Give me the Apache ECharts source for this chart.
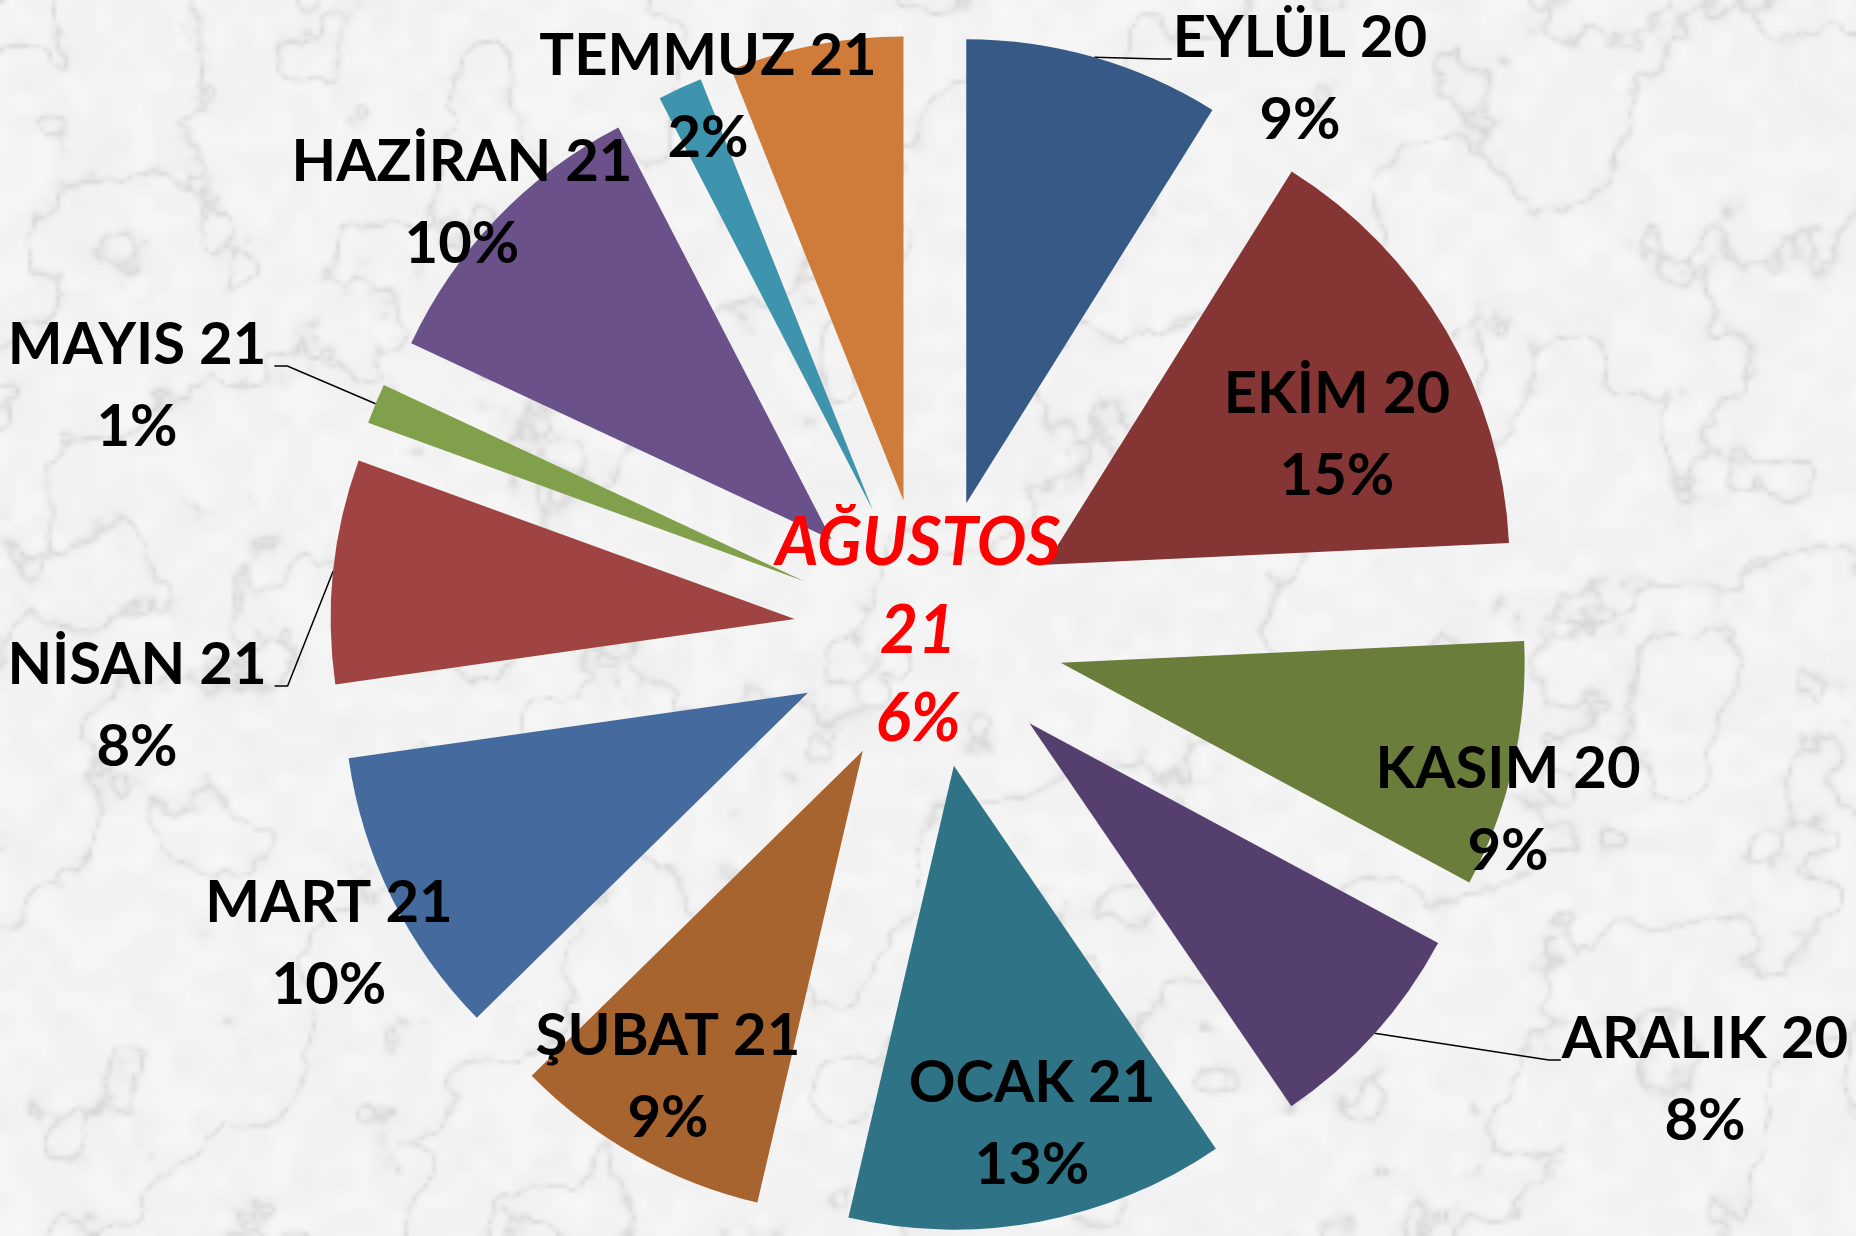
<!DOCTYPE html>
<html>
<head>
<meta charset="utf-8">
<title>Aylık dağılım</title>
<script src="https://cdn.jsdelivr.net/npm/echarts@6/dist/echarts.min.js"></script>
<style>
html, body { margin: 0; padding: 0; }
#chart { width: 1856px; height: 1236px; background-color: #f0f0f0; background-size: 1856px 1236px; }
</style>
</head>
<body>
<div id="chart"></div>
<script>
const months = ['EYLÜL 20', 'EKİM 20', 'KASIM 20', 'ARALIK 20', 'OCAK 21', 'ŞUBAT 21',
  'MART 21', 'NİSAN 21', 'MAYIS 21', 'HAZİRAN 21', 'TEMMUZ 21', 'AĞUSTOS 21'];
// shares in % (labels show them rounded)
const shares = [8.9, 15.35, 8.6, 7.6, 13.2, 9.0, 10.1, 7.8, 1.4, 10.45, 1.55, 6.05];
const sliceColors = ['#365985', '#843534', '#6a7d3b', '#543f6e', '#2e7386', '#a8642f',
  '#456a9d', '#a04343', '#80a04b', '#6a5189', '#3e94ad', '#cf7b3a'];

// where each label block sits (centre, px) and which ones hang on a leader line
const labelSpots = [[1300, 79], [1337, 435], [1508, 810], [1705, 1080], [1032, 1124], [668, 1077],
  [329, 944], [137, 706], [137, 386], [462, 203], [708, 97], [918, 632]];
const withLeader = [true, false, false, true, false, false, false, true, true, false, false, false];

const pieCenter = [929, 633];
const pieRadius = 464;
const explode = 135;

// marble-ish backdrop, deterministic noise
(function paintMarble() {
  const w = 464, h = 309;
  const cv = document.createElement('canvas');
  cv.width = w; cv.height = h;
  const ctx = cv.getContext('2d');
  const img = ctx.createImageData(w, h);
  const hash = (x, y) => {
    let n = x * 374761393 + y * 668265263;
    n = (n ^ (n >> 13)) * 1274126177;
    return ((n ^ (n >> 16)) & 0xffff) / 0xffff;
  };
  const smooth = t => t * t * (3 - 2 * t);
  const noise = (x, y) => {
    const xi = Math.floor(x), yi = Math.floor(y);
    const xf = smooth(x - xi), yf = smooth(y - yi);
    const a = hash(xi, yi), b = hash(xi + 1, yi), c = hash(xi, yi + 1), d = hash(xi + 1, yi + 1);
    return a + (b - a) * xf + (c - a) * yf + (a - b - c + d) * xf * yf;
  };
  for (let y = 0; y < h; y++) {
    for (let x = 0; x < w; x++) {
      let t = 0, amp = 1, f = 1 / 30;
      for (let o = 0; o < 5; o++) { t += amp * noise(x * f, y * f); amp *= 0.5; f *= 2; }
      const v = Math.abs(Math.sin((x * 0.7 + y) * 0.04 + t * 4));
      const vein = Math.pow(1 - v, 10);
      const g = 247 - vein * 26 - noise(x / 5, y / 5) * 7;
      const k = (y * w + x) * 4;
      img.data[k] = g; img.data[k + 1] = g; img.data[k + 2] = g; img.data[k + 3] = 255;
    }
  }
  ctx.putImageData(img, 0, 0);
  document.getElementById('chart').style.backgroundImage = 'url(' + cv.toDataURL() + ')';
})();

const chart = echarts.init(document.getElementById('chart'));

const sliceData = months.map((m, i) => ({
  name: m,
  value: shares[i],
  selected: true,
  itemStyle: { color: sliceColors[i] }
}));

const labelData = months.map((m, i) => {
  const item = {
    name: m,
    value: shares[i],
    label: { position: withLeader[i] ? 'outside' : 'inside' },
    labelLine: { show: withLeader[i] }
  };
  if (m === 'AĞUSTOS 21') {
    item.label = {
      position: 'inside',
      color: '#ff0000',
      fontStyle: 'italic',
      fontSize: 66,
      lineHeight: 88,
      formatter: p => p.name.replace(' ', '\n') + '\n' + Math.round(p.value) + '%'
    };
  }
  return item;
});

chart.setOption({
  backgroundColor: 'transparent',
  animation: false,
  series: [{
    type: 'pie',
    center: pieCenter,
    radius: pieRadius,
    startAngle: 90,
    clockwise: true,
    selectedMode: 'multiple',
    selectedOffset: explode,
    emphasis: { disabled: true },
    label: { show: false },
    labelLine: { show: false },
    itemStyle: { borderWidth: 0 },
    data: sliceData
  }, {
    // same slices, unexploded and invisible: carries the labels
    type: 'pie',
    silent: true,
    center: pieCenter,
    radius: pieRadius,
    startAngle: 90,
    clockwise: true,
    avoidLabelOverlap: false,
    emphasis: { disabled: true },
    itemStyle: { color: 'rgba(0,0,0,0)', borderWidth: 0 },
    label: {
      fontFamily: 'Lato',
      fontWeight: 'bold',
      fontSize: 58,
      lineHeight: 82,
      color: '#000000',
      formatter: p => p.name + '\n' + Math.round(p.value) + '%'
    },
    labelLine: {
      length: 10,
      length2: 10,
      lineStyle: { color: '#000000', width: 1.5 }
    },
    labelLayout: params => {
      const i = params.dataIndex;
      const x = labelSpots[i][0];
      const y = labelSpots[i][1];
      const out = { x: x, y: y, align: 'center', verticalAlign: 'middle' };
      if (withLeader[i] && params.labelLinePoints) {
        const p0 = params.labelLinePoints[0];
        const vx = p0[0] - pieCenter[0], vy = p0[1] - pieCenter[1];
        const len = Math.sqrt(vx * vx + vy * vy);
        const start = [p0[0] + vx / len * explode, p0[1] + vy / len * explode];
        const w = params.labelRect.width;
        const base = y - 20;
        if (x > pieCenter[0]) {
          const left = x - w / 2;
          out.labelLinePoints = [start, [left - 13, base], [left - 1, base]];
        } else {
          const right = x + w / 2;
          out.labelLinePoints = [start, [right + 21, base], [right + 8, base]];
        }
      }
      return out;
    },
    data: labelData
  }]
});
</script>
</body>
</html>
